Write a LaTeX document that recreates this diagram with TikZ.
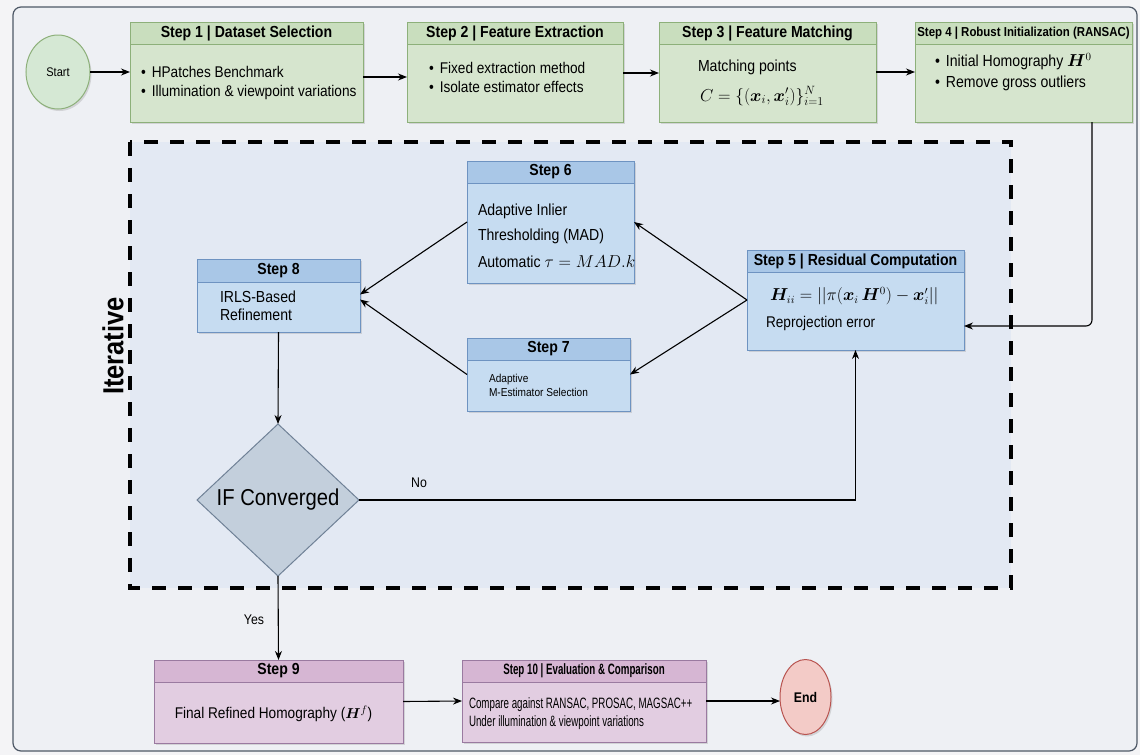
\documentclass[tikz,border=0pt]{standalone}
\usepackage{amsmath}
\usepackage{bm}
\usepackage{fontspec}
\setmainfont[FakeStretch=0.88]{Liberation Sans}
\newfontfamily\narrowfont[FakeStretch=0.65]{Liberation Sans}
\usetikzlibrary{shapes.geometric,arrows.meta,shadows}
\definecolor{bgcol}{HTML}{F4F4F6}
\definecolor{panelfill}{HTML}{EEF0F4}
\definecolor{panelline}{HTML}{4E5866}
\definecolor{iterfill}{HTML}{E3E9F3}
\definecolor{gline}{HTML}{8DB07A}
\definecolor{ghead}{HTML}{C9DEBE}
\definecolor{gbody}{HTML}{D6E5CE}
\definecolor{bline}{HTML}{6E93C1}
\definecolor{bhead}{HTML}{A9C7E7}
\definecolor{bbody}{HTML}{C6DCF1}
\definecolor{pline}{HTML}{9A7AA0}
\definecolor{phead}{HTML}{D6B6D3}
\definecolor{pbody}{HTML}{E2CDE1}
\definecolor{dfill}{HTML}{C3CFDC}
\definecolor{dline}{HTML}{6F8196}
\definecolor{efill}{HTML}{F3CBC7}
\definecolor{eline}{HTML}{B85450}
\definecolor{sfill}{HTML}{D5E8D4}
\begin{document}
\begin{tikzpicture}[x=1pt,y=-1pt,
  every node/.style={inner sep=0pt, outer sep=0pt},
  box/.style={rectangle, draw, line width=0.9pt, drop shadow={opacity=0.25,shadow xshift=1.5pt,shadow yshift=-2pt}},
  hdr/.style={rectangle, draw, line width=0.9pt, anchor=north, minimum height=22pt, font=\fontsize{16}{18}\selectfont\bfseries},
  gbox/.style={box, draw=gline, fill=gbody},
  ghdr/.style={hdr, draw=gline, fill=ghead},
  bbox/.style={box, draw=bline, fill=bbody},
  bhdr/.style={hdr, draw=bline, fill=bhead},
  pbox/.style={box, draw=pline, fill=pbody},
  phdr/.style={hdr, draw=pline, fill=phead},
  txt/.style={anchor=base west, font=\fontsize{15.5}{18}\selectfont},
  arr/.style={-{Stealth[length=9pt,width=7pt]}, line width=1.1pt},
  lbl/.style={font=\fontsize{14}{16}\selectfont},
]
\useasboundingbox (0,0) rectangle (1140,755);
\fill[bgcol] (0,0) rectangle (1140,755);
\path[draw=panelline, fill=panelfill, rounded corners=8pt, line width=1.2pt] (13,7) rectangle (1137,751);
\path[fill=iterfill, draw=black, line width=3.5pt, dash pattern=on 14pt off 12pt] (130,142) rectangle (1011,588);
\node[rotate=90, font=\fontsize{29}{32}\selectfont\bfseries] (iter) at (113,346) {Iterative};

% start / end
\node[ellipse, draw=gline, fill=sfill, line width=1pt, minimum width=64pt, minimum height=74pt,
  drop shadow={opacity=0.25,shadow xshift=1.5pt,shadow yshift=-2pt}, font=\fontsize{12.5}{14}\selectfont] (start) at (58,72) {Start};
\node[ellipse, draw=eline, fill=efill, line width=1pt, minimum width=51pt, minimum height=75pt,
  drop shadow={opacity=0.25,shadow xshift=1.5pt,shadow yshift=-2pt}, font=\fontsize{14}{16}\selectfont\bfseries] (end) at (805.5,697) {End};

% Step 1
\node[gbox, minimum width=233pt, minimum height=100pt] (s1) at (246.5,72) {};
\node[ghdr, minimum width=233pt] (s1h) at (s1.north) {Step 1 | Dataset Selection};
\node[txt] (s1a) at (141,77.3) {\textbullet\hspace{6pt}HPatches Benchmark};
\node[txt] (s1b) at (141,96.7) {\textbullet\hspace{6pt}Illumination \& viewpoint variations};

% Step 2
\node[gbox, minimum width=216pt, minimum height=100pt] (s2) at (515,72) {};
\node[ghdr, minimum width=216pt] (s2h) at (s2.north) {Step 2 | Feature Extraction};
\node[txt] (s2a) at (429,73.3) {\textbullet\hspace{6pt}Fixed extraction method};
\node[txt] (s2b) at (429,92.3) {\textbullet\hspace{6pt}Isolate estimator effects};

% Step 3
\node[gbox, minimum width=217pt, minimum height=100pt] (s3) at (767.5,72) {};
\node[ghdr, minimum width=217pt] (s3h) at (s3.north) {Step 3 | Feature Matching};
\node[txt, font=\fontsize{16}{18}\selectfont] (s3a) at (698,71.7) {Matching points};
\node[txt, font=\fontsize{18}{20}\selectfont] (s3b) at (700,101) {$C=\{(\bm{x}_i,\bm{x}'_i)\}_{i=1}^{N}$};

% Step 4
\node[gbox, minimum width=217pt, minimum height=100pt] (s4) at (1023.5,72) {};
\node[ghdr, minimum width=217pt, font=\fontsize{13}{15}\selectfont\bfseries] (s4h) at (s4.north) {Step 4 | Robust Initialization (RANSAC)};
\node[txt, font=\fontsize{16}{18}\selectfont] (s4a) at (935,66.7) {\textbullet\hspace{6pt}Initial Homography $\bm{H}^{0}$};
\node[txt, font=\fontsize{16}{18}\selectfont] (s4b) at (935,87.3) {\textbullet\hspace{6pt}Remove gross outliers};

% Step 5
\node[bbox, minimum width=217pt, minimum height=100pt] (s5) at (855.5,300) {};
\node[bhdr, minimum width=217pt] (s5h) at (s5.north) {Step 5 | Residual Computation};
\node[txt, font=\fontsize{16}{18}\selectfont] (s5a) at (770,300.7) {$\bm{H}_{ii} =||\pi(\bm{x}_i\,\bm{H}^{0})-\bm{x}'_i||$};
\node[txt] (s5b) at (766,327.3) {Reprojection error};

% Step 6
\node[bbox, minimum width=167pt, minimum height=122pt] (s6) at (550.5,222) {};
\node[bhdr, minimum width=167pt] (s6h) at (s6.north) {Step 6};
\node[txt, font=\fontsize{16}{18}\selectfont] (s6a) at (478,215) {Adaptive Inlier};
\node[txt, font=\fontsize{16}{18}\selectfont] (s6b) at (478,240.7) {Thresholding (MAD)};
\node[txt, font=\fontsize{16}{18}\selectfont] (s6c) at (478,267.3) {Automatic $\tau = MAD.k$};

% Step 7
\node[bbox, minimum width=163pt, minimum height=73pt] (s7) at (548.5,374.5) {};
\node[bhdr, minimum width=163pt] (s7h) at (s7.north) {Step 7};
\node[txt, font=\fontsize{11.5}{13}\selectfont] (s7a) at (489,382.3) {Adaptive};
\node[txt, font=\fontsize{11.5}{13}\selectfont] (s7b) at (489,396.7) {M-Estimator Selection};

% Step 8
\node[bbox, minimum width=163pt, minimum height=73pt] (s8) at (278.5,295.5) {};
\node[bhdr, minimum width=163pt, minimum height=23pt] (s8h) at (s8.north) {Step 8};
\node[txt, font=\fontsize{16}{18}\selectfont] (s8a) at (220,302.3) {IRLS-Based};
\node[txt, font=\fontsize{16}{18}\selectfont] (s8b) at (220,320) {Refinement};

% Decision
\node[diamond, draw=dline, fill=dfill, line width=1pt, minimum width=162pt, minimum height=152pt,
  font=\fontsize{23}{26}\selectfont] (dec) at (278,500) {IF Converged};

% Step 9
\node[pbox, minimum width=249pt, minimum height=83pt] (s9) at (278.5,701.5) {};
\node[phdr, minimum width=249pt] (s9h) at (s9.north) {Step 9};
\node[anchor=base, font=\fontsize{15.5}{18}\selectfont] (s9a) at (273.5,718.3) {Final Refined Homography ($\bm{H}^{f}$)};

% Step 10
\node[pbox, minimum width=244pt, minimum height=82pt] (s10) at (584,701) {};
\node[phdr, minimum width=244pt, font=\fontsize{15}{18}\selectfont\narrowfont\bfseries] (s10h) at (s10.north) {Step 10 | Evaluation \& Comparison};
\node[txt, font=\fontsize{15}{18}\selectfont\narrowfont] (s10a) at (469,708.3) {Compare against RANSAC, PROSAC, MAGSAC++};
\node[txt, font=\fontsize{15}{18}\selectfont\narrowfont] (s10b) at (469,726) {Under illumination \& viewpoint variations};

% connectors
\draw[arr] (start.east) -- (s1.west);
\draw[arr] ([yshift=-5pt]s1.east) -- ([yshift=-5pt]s2.west);
\draw[arr] ([yshift=-1pt]s2.east) -- ([yshift=-1pt]s3.west);
\draw[arr] (s3.east) -- (s4.west);
\coordinate (c4) at (1092,326);
\draw[arr, rounded corners=6pt] (s4.south -| c4) -- (c4) -- (s5.east |- c4);
\draw[arr] (s5.west) -- (s6.east);
\draw[arr] (s5.west) -- (s7.east);
\draw[arr] (s6.west) -- ([yshift=1pt]s8.east);
\draw[arr] (s7.west) -- ([yshift=-4pt]s8.east);
\draw[arr] (s8.south) -- (dec.north);
\draw[arr] (dec.east) -| (s5.south);
\node[lbl] (no) at (419,483) {No};
\draw[arr] (dec.south) -- (s9.north);
\node[lbl] (yes) at (254,620) {Yes};
\draw[arr] (s9.east) -- (s10.west);
\draw[arr] (s10.east) -- (s10.east -| end.west);
\end{tikzpicture}
\end{document}
